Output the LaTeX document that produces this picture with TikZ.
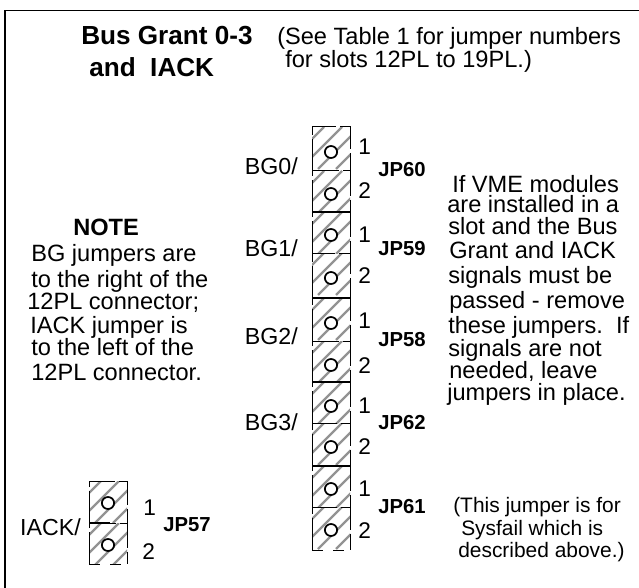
\documentclass[tikz,border=0pt]{standalone}
\usepackage{fontspec}
\setmainfont{Liberation Sans}
\usetikzlibrary{shapes.geometric}
\tikzset{
  lbl/.style={inner sep=0pt, anchor=base west, font=\fontsize{17.7}{17.7}\selectfont},
  lblr/.style={inner sep=0pt, anchor=base east, font=\fontsize{17.4}{17.4}\selectfont},
  num/.style={inner sep=0pt, anchor=base west, font=\fontsize{17}{17}\selectfont},
  small/.style={inner sep=0pt, anchor=base west, font=\fontsize{15.7}{15.7}\selectfont},
  head/.style={inner sep=0pt, anchor=base west, font=\bfseries\fontsize{19.6}{19.6}\selectfont},
  jp/.style={inner sep=0pt, anchor=base west, font=\bfseries\fontsize{15.2}{15.2}\selectfont},
  hatch/.style={gray!85, line width=1.6pt},
  pin/.style={draw, ellipse, fill=white, line width=1.3pt, inner sep=0pt, minimum width=9.2pt, minimum height=9pt},
  edge/.style={line width=0.75pt, dash pattern=on 24pt off 3pt},
  bar/.style={line width=1.3pt},
}
% one jumper cell: #1 left x, #2 top y, #3 bottom y, #4 pin y, #5 name
\newcommand{\jumpercell}[5]{
  \begin{scope}
    \clip (#1,#2) rectangle (#1+38,#3);
    \foreach \k in {0,...,4}
      \draw[hatch] (#1+\k*18-30,#2+42) -- (#1+\k*18+12,#2);
  \end{scope}
  \draw[edge] (#1,#3) -- (#1,#2) -- (#1+38,#2) -- (#1+38,#3);
  \node[pin] (#5) at (#1+19,#4) {};
}
\begin{document}
\begin{tikzpicture}[x=0.75pt,y=-0.75pt]
    \useasboundingbox (0,0) rectangle (639,588);

    % frame
    \draw[line width=1.1pt] (5,588) -- (5,10.5) -- (639,10.5);

    % title
    \node[head] (title1) at (81,45) {Bus Grant 0-3};
    \node[head] (title2) at (89,77) {and\ \ IACK};
    \node[lbl] (see1) at (277,45) {(See Table 1 for jumper numbers};
    \node[lbl] (see2) at (285,68) {for slots 12PL to 19PL.)};

    % note
    \node[lbl, font=\bfseries\fontsize{17.7}{17.7}\selectfont] (note) at (73,235) {NOTE};
    \node[lbl] (note1) at (31,262) {BG jumpers are};
    \node[lbl] (note2) at (31,287) {to the right of the};
    \node[lbl] (note3) at (27,309) {12PL connector;};
    \node[lbl] (note4) at (30,333) {IACK jumper is};
    \node[lbl] (note5) at (31,355) {to the left of the};
    \node[lbl] (note6) at (31,380) {12PL connector.};

    % jumper column
    \jumpercell{312}{127}{171}{152}{p1}
    \jumpercell{312}{171}{212}{194}{p2}
    \jumpercell{312}{212}{253}{235}{p3}
    \jumpercell{312}{253}{298}{278}{p4}
    \jumpercell{312}{298}{341}{323}{p5}
    \jumpercell{312}{341}{382}{365}{p6}
    \jumpercell{312}{382}{423}{406}{p7}
    \jumpercell{312}{423}{466}{447}{p8}
    \jumpercell{312}{466}{507}{489}{p9}
    \jumpercell{312}{507}{550}{530}{p10}
    \draw[line width=0.75pt, dash pattern=on 8pt off 8pt] (312,550) -- (350,550);

    % heavy separators
    \draw[bar] (312,212) -- (350,212);
    \draw[bar] (312,298) -- (350,298);
    \draw[bar] (312,382) -- (350,382);
    \draw[bar] (312,466) -- (350,466);

    % signal names
    \node[lblr] (bg0) at (298,175) {BG0/};
    \node[lblr] (bg1) at (298,257) {BG1/};
    \node[lblr] (bg2) at (298,344) {BG2/};
    \node[lblr] (bg3) at (298,430) {BG3/};

    % pin numbers
    \foreach \n/\y/\t in {a/155/1,b/199/2,c/243/1,d/283/2,e/328/1,f/373/2,g/413/1,h/454/2,i/496/1,j/538/2}
      \node[num] (num\n) at (358,\y) {\t};

    % jumper names
    \node[jp] (jp60) at (378,177) {JP60};
    \node[jp] (jp59) at (378,255) {JP59};
    \node[jp] (jp58) at (378,346) {JP58};
    \node[jp] (jp62) at (378,429) {JP62};
    \node[jp] (jp61) at (378,513) {JP61};

    % right text
    \node[lbl] (rem1) at (452,193) {If VME modules};
    \node[lbl] (rem2) at (447,213) {are installed in a};
    \node[lbl] (rem3) at (448,234) {slot and the Bus};
    \node[lbl] (rem4) at (449,258) {Grant and IACK};
    \node[lbl] (rem5) at (448,283) {signals must be};
    \node[lbl] (rem6) at (449,308) {passed - remove};
    \node[lbl] (rem7) at (448,333) {these jumpers.\ \ If};
    \node[lbl] (rem8) at (448,356) {signals are not};
    \node[lbl] (rem9) at (449,378) {needed, leave};
    \node[lbl] (rem10) at (447,400) {jumpers in place.};

    % sysfail text
    \node[small] (sys1) at (453,512) {(This jumper is for};
    \node[small] (sys2) at (461,535) {Sysfail which is};
    \node[small] (sys3) at (458,557) {described above.)};

    % iack jumper
    \jumpercell{89}{481}{523}{503}{q1}
    \jumpercell{89}{523}{564}{545}{q2}
    \draw[line width=0.75pt, dash pattern=on 8pt off 8pt] (89,564) -- (128,564);
    \draw[bar] (89,523) -- (110,523);
    \node[lblr] (iack) at (81,535) {IACK/};
    \node[num] (num1) at (143,515) {1};
    \node[num] (num2) at (142,559) {2};
    \node[jp] (jp57) at (163,531) {JP57};
\end{tikzpicture}
\end{document}
